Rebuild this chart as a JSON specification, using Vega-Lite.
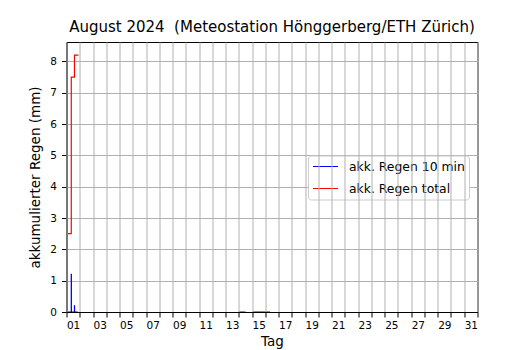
{
  "$schema": "https://vega.github.io/schema/vega-lite/v6.json",
  "autosize": "none",
  "width": 411,
  "height": 270,
  "padding": {"left": 66.5, "top": 42, "right": 52.5, "bottom": 38},
  "background": "white",
  "title": {
    "text": "August 2024\u00a0 (Meteostation Hönggerberg/ETH Zürich)",
    "font": "DejaVu Sans",
    "fontSize": 15,
    "fontWeight": "normal",
    "color": "black",
    "anchor": "middle",
    "offset": 7
  },
  "config": {
    "font": "DejaVu Sans",
    "view": {"stroke": "black", "strokeWidth": 1},
    "axis": {
      "domainColor": "black",
      "domainWidth": 1,
      "tickColor": "black",
      "tickWidth": 1,
      "tickSize": 5,
      "gridColor": "#b0b0b0",
      "gridWidth": 1,
      "gridOpacity": 1,
      "labelFont": "DejaVu Sans",
      "labelFontSize": 10.5,
      "labelColor": "black",
      "titleFont": "DejaVu Sans",
      "titleFontSize": 13.5,
      "titleFontWeight": "normal",
      "titleColor": "black"
    }
  },
  "data": {
    "values": [
      {"t": 0.0, "v": 0, "s": "akk. Regen 10 min", "g": "b1"},
      {"t": 0.353, "v": 0, "s": "akk. Regen 10 min", "g": "b1"},
      {"t": 0.36, "v": 1.2, "s": "akk. Regen 10 min", "g": "b1"},
      {"t": 0.367, "v": 0, "s": "akk. Regen 10 min", "g": "b1"},
      {"t": 0.593, "v": 0, "s": "akk. Regen 10 min", "g": "b1"},
      {"t": 0.6, "v": 0.2, "s": "akk. Regen 10 min", "g": "b1"},
      {"t": 0.607, "v": 0, "s": "akk. Regen 10 min", "g": "b1"},
      {"t": 0.85, "v": 0, "s": "akk. Regen 10 min", "g": "b1"},
      {"t": 13.02, "v": 0, "s": "akk. Regen 10 min", "g": "b2"},
      {"t": 13.5, "v": 0, "s": "akk. Regen 10 min", "g": "b2"},
      {"t": 14.05, "v": 0, "s": "akk. Regen 10 min", "g": "b3"},
      {"t": 15.35, "v": 0, "s": "akk. Regen 10 min", "g": "b3"},
      {"t": 0.0, "v": 2.5, "s": "akk. Regen total", "g": "r"},
      {"t": 0.36, "v": 7.5, "s": "akk. Regen total", "g": "r"},
      {"t": 0.6, "v": 8.2, "s": "akk. Regen total", "g": "r"},
      {"t": 0.9, "v": 8.2, "s": "akk. Regen total", "g": "r"}
    ]
  },
  "mark": {"type": "line", "strokeWidth": 1.2, "interpolate": "step-after", "clip": true},
  "encoding": {
    "x": {
      "field": "t",
      "type": "quantitative",
      "scale": {"domain": [0, 31], "nice": false, "zero": false},
      "axis": {
        "title": "Tag",
        "zindex": 1,
        "values": [0,0.5,1,1.5,2,2.5,3,3.5,4,4.5,5,5.5,6,6.5,7,7.5,8,8.5,9,9.5,10,10.5,11,11.5,12,12.5,13,13.5,14,14.5,15,15.5,16,16.5,17,17.5,18,18.5,19,19.5,20,20.5,21,21.5,22,22.5,23,23.5,24,24.5,25,25.5,26,26.5,27,27.5,28,28.5,29,29.5,30,30.5,31],
        "labelExpr": "(datum.value % 1 != 0 && floor(datum.value) % 2 == 0) ? ((floor(datum.value) + 1 < 10 ? '0' : '') + (floor(datum.value) + 1)) : ''",
        "labelFlush": false,
        "labelOverlap": false,
        "labelPadding": 3,
        "tickOpacity": {"condition": {"test": "datum.value % 1 == 0", "value": 1}, "value": 0},
        "gridOpacity": {"condition": {"test": "datum.value % 1 == 0", "value": 1}, "value": 0},
        "titlePadding": 4
      }
    },
    "y": {
      "field": "v",
      "type": "quantitative",
      "scale": {"domain": [0, 8.62], "nice": false},
      "axis": {
        "title": "akkumulierter Regen (mm)",
        "values": [0,1,2,3,4,5,6,7,8],
        "labelPadding": 5,
        "titlePadding": 7
      }
    },
    "color": {
      "field": "s",
      "type": "nominal",
      "scale": {"domain": ["akk. Regen 10 min", "akk. Regen total"], "range": ["blue", "red"]},
      "legend": {
        "title": null,
        "orient": "none",
        "legendX": 241.5,
        "legendY": 113.5,
        "symbolType": "stroke",
        "symbolSize": 625,
        "clipHeight": 14,
        "symbolStrokeWidth": 1.2,
        "labelFont": "DejaVu Sans",
        "labelFontSize": 12.4,
        "labelColor": "black",
        "labelOffset": 10,
        "padding": 4,
        "rowPadding": 8,
        "strokeColor": "#cccccc",
        "fillColor": "white",
        "cornerRadius": 3,
        "encode": {
          "symbols": {"update": {"stroke": {"scale": "color", "field": "value"}}}
        }
      }
    },
    "detail": {"field": "g", "type": "nominal"}
  }
}
